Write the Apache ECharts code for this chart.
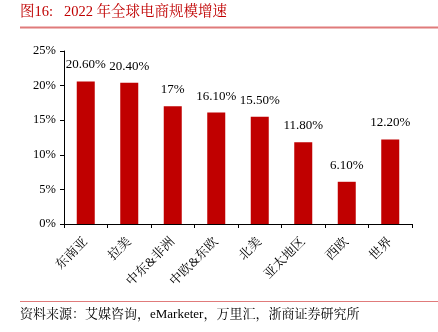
<!DOCTYPE html>
<html><head><meta charset="utf-8">
<script src="https://cdn.jsdelivr.net/npm/echarts@6/dist/echarts.min.js"></script>
<style>html,body{margin:0;padding:0;background:#fff}#c{width:438px;height:332px}</style>
</head><body><div id="c"></div>
<script>
const categories = ['东南亚','拉美','中东&非洲','中欧&东欧','北美','亚太地区','西欧','世界'];
const values = [20.6, 20.4, 17, 16.1, 15.5, 11.8, 6.1, 12.2];
const valueLabels = ['20.60%','20.40%','17%','16.10%','15.50%','11.80%','6.10%','12.20%'];
const yTicks = [0, 5, 10, 15, 20, 25];
const titleText = '图16:   2022 年全球电商规模增速';
const sourceText = '资料来源：艾媒咨询，eMarketer，万里汇，浙商证券研究所';

const FONT = '"Liberation Serif", "Noto Serif CJK SC", "Noto Sans CJK SC", serif';
const chart = echarts.init(document.getElementById('c'), null, {renderer: 'canvas'});
chart.setOption({
  animation: false,
  backgroundColor: '#fff',
  grid: {left: 64, right: 26, top: 51, bottom: 108, containLabel: false},
  graphic: [
    {type: 'text', left: 20, top: 5, style: {text: titleText, fill: '#c00000', font: '14.5px ' + FONT}},
    {type: 'line', shape: {x1: 20, y1: 27.5, x2: 438, y2: 27.5}, style: {stroke: '#e07b7b', lineWidth: 2}},
    {type: 'line', shape: {x1: 20, y1: 301.5, x2: 438, y2: 301.5}, style: {stroke: '#e07b7b', lineWidth: 1}},
    {type: 'text', left: 20, top: 308, style: {text: sourceText, fill: '#000', font: '13px ' + FONT}}
  ],
  xAxis: {
    type: 'category', data: categories,
    axisLine: {lineStyle: {color: '#000', width: 1}},
    axisTick: {show: true, alignWithLabel: false, length: 4, lineStyle: {color: '#000'}},
    axisLabel: {rotate: 45, color: '#000', fontSize: 13, fontFamily: FONT, margin: 16, interval: 0}
  },
  yAxis: {
    type: 'value', min: 0, max: 25, interval: 5,
    axisLine: {show: true, lineStyle: {color: '#000', width: 1}},
    axisTick: {show: true, length: 4, lineStyle: {color: '#000'}},
    splitLine: {show: false},
    axisLabel: {color: '#000', fontSize: 12.5, fontFamily: FONT, margin: 8,
      formatter: v => yTicks.includes(v) ? v + '%' : ''}
  },
  series: [{
    type: 'bar', data: values, barWidth: 18,
    itemStyle: {color: '#c00000'},
    label: {show: true, position: 'top', distance: 10, color: '#000', fontSize: 13, fontFamily: FONT,
      formatter: p => valueLabels[p.dataIndex]}
  }]
});
</script></body></html>
